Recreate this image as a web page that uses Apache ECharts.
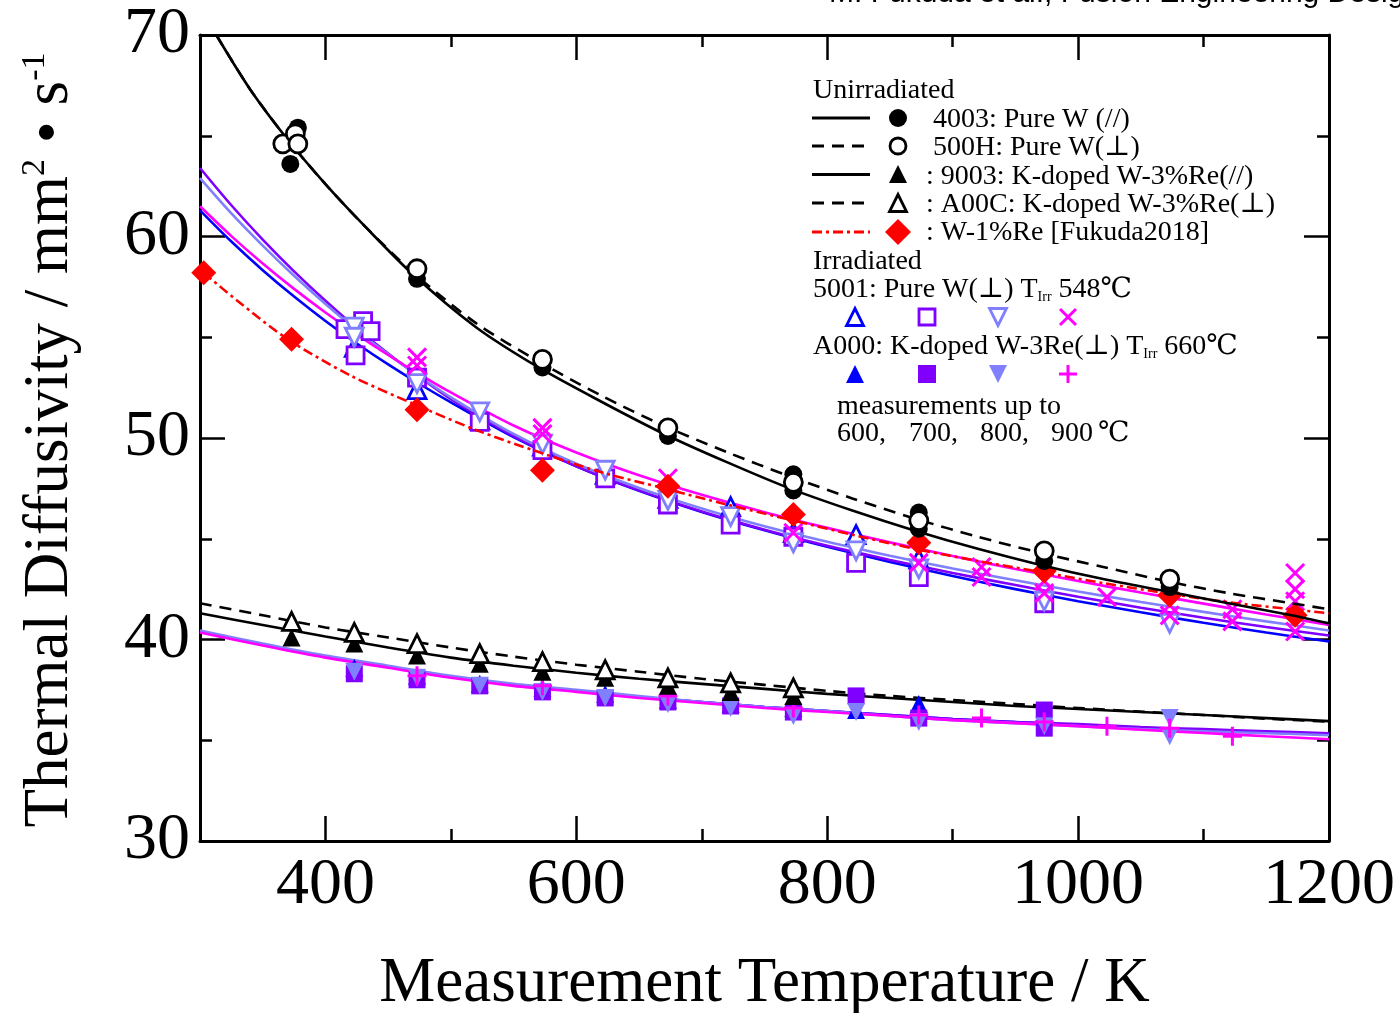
<!DOCTYPE html>
<html><head><meta charset="utf-8">
<script src="https://cdn.jsdelivr.net/npm/echarts@6/dist/echarts.min.js"></script>
<style>html,body{margin:0;padding:0;background:#fff;overflow:hidden}#c{display:block;width:100vw;height:100vh}</style>
</head><body><div id="c"></div>
<script>
// ---------------- data ----------------
const xTickMajor = [400, 600, 800, 1000, 1200];
const xTickMinor = [500, 700, 900, 1100];

// Unirradiated pure W
const pw4003 = [[372,63.6],[378,65.4],[473,57.9],[573,53.5],[673,50.1],[773,48.2],[773,47.4],[873,46.3],[873,45.5],[973,43.9],[1073,42.6]];
const pw500H = [[366,64.6],[376,65.1],[378,64.6],[473,58.4],[573,53.9],[673,50.5],[773,47.8],[873,45.9],[973,44.4],[1073,43.0]];
const fit4003 = [[313,70.0],[340,67.3],[370,64.8],[400,62.6],[430,60.6],[470,58.1],[520,55.5],[570,53.5],[620,51.8],[670,50.2],[720,48.8],[770,47.5],[820,46.4],[870,45.4],[920,44.5],[970,43.7],[1020,43.0],[1070,42.4],[1120,41.8],[1170,41.2],[1200,40.8]];
const fit500H = [[313,70.0],[340,67.3],[370,64.8],[400,62.6],[430,60.6],[470,58.2],[520,55.7],[570,53.8],[620,52.1],[670,50.6],[720,49.3],[770,48.1],[820,47.0],[870,46.0],[920,45.1],[970,44.3],[1020,43.6],[1070,42.9],[1120,42.3],[1170,41.8],[1200,41.5]];

// W-1%Re [Fukuda2018]
const wre1 = [[303,58.2],[373,54.9],[473,51.4],[573,48.4],[673,47.6],[773,46.2],[873,44.8],[973,43.4],[1073,42.2],[1173,41.2]];
const fitWRe1 = [[303,58.2],[330,56.8],[370,54.9],[420,53.1],[470,51.7],[520,50.4],[570,49.3],[620,48.3],[670,47.5],[720,46.7],[770,45.95],[820,45.2],[870,44.5],[920,43.9],[970,43.35],[1020,42.8],[1070,42.3],[1120,41.85],[1170,41.5],[1200,41.3]];

// Unirradiated K-doped W-3%Re
const k9003 = [[373,40.1],[423,39.8],[473,39.2],[523,38.8],[573,38.4],[623,38.1],[673,37.7],[723,37.4],[773,37.2]];
const kA00C = [[373,40.9],[423,40.35],[473,39.8],[523,39.3],[573,38.9],[623,38.5],[673,38.1],[723,37.85],[773,37.6]];

// fit temperature grids
const tUp = [300,325,350,375,400,425,450,475,500,550,600,650,700,750,800,850,900,950,1000,1050,1100,1150,1200];
const tLow = [300,350,400,450,500,550,600,650,700,750,800,850,900,950,1000,1050,1100,1150,1200];

const fit9003 = [41.3,40.72,40.15,39.6,39.1,38.7,38.35,38.05,37.8,37.55,37.3,37.1,36.9,36.7,36.55,36.4,36.25,36.1,35.95];
const fitA00C = [41.8,41.2,40.6,40.1,39.6,39.15,38.75,38.4,38.05,37.75,37.45,37.2,37.0,36.8,36.6,36.42,36.25,36.07,35.92];

// Irradiated 5001 pure W (upper group): measurements up to 600/700/800/900 C
const irrUpBlue = [[423,54.5],[473,52.4],[523,50.9],[573,49.6],[623,48.2],[673,47.0],[723,46.6],[773,45.3],[823,45.2],[873,44.0]];
const irrUpPurple = [[416,55.4],[430,55.8],[436,55.3],[424,54.1],[473,53.0],[523,50.8],[573,49.4],[623,48.0],[673,46.7],[723,45.7],[773,45.1],[823,43.8],[873,43.1],[973,41.8]];
const irrUpLight = [[423,55.5],[423,55.0],[473,52.7],[523,51.3],[573,49.7],[623,48.4],[673,46.9],[723,46.1],[773,44.8],[823,44.4],[873,43.5],[973,41.9],[1073,40.8]];
const irrUpMagenta = [[473,54.0],[473,53.6],[573,50.5],[573,50.2],[673,48.0],[773,45.3],[873,43.8],[923,43.6],[923,43.1],[973,42.9],[973,42.3],[1023,42.1],[1073,41.7],[1073,41.2],[1123,41.5],[1123,40.9],[1173,43.3],[1173,42.5],[1173,41.9],[1173,40.4]];
const fitUpBlue = [61.3,59.75,58.33,57.02,55.81,54.69,53.65,52.68,51.77,50.05,48.6,47.38,46.33,45.42,44.6,43.85,43.15,42.5,41.9,41.35,40.83,40.35,39.9];
const fitUpPurple = [63.4,61.55,59.85,58.27,56.81,55.45,54.19,53.02,51.93,50.1,48.6,47.4,46.35,45.45,44.65,43.95,43.3,42.7,42.12,41.58,41.08,40.62,40.2];
const fitUpLight = [62.9,61.15,59.55,58.05,56.65,55.35,54.15,53.05,52.02,50.2,48.72,47.52,46.5,45.62,44.85,44.16,43.52,42.94,42.38,41.86,41.37,40.9,40.45];
const fitUpMagenta = [61.5,60.02,58.66,57.4,56.23,55.14,54.12,53.16,52.26,50.62,49.28,48.15,47.18,46.32,45.54,44.82,44.14,43.5,42.9,42.33,41.78,41.24,40.72];

// Irradiated A000 K-doped W-3Re (lower group)
const irrLowBlue = [[423,38.6],[473,38.2],[523,37.8],[573,37.6],[623,37.3],[673,37.0],[723,36.8],[773,36.6],[823,36.5],[873,36.8]];
const irrLowPurple = [[423,38.3],[473,38.0],[523,37.7],[573,37.4],[623,37.1],[673,36.9],[723,36.7],[773,36.4],[823,37.2],[873,36.1],[973,36.5],[973,35.6]];
const irrLowLight = [[423,38.4],[473,38.1],[523,37.7],[573,37.4],[623,37.1],[673,36.8],[723,36.6],[773,36.2],[823,36.4],[873,35.9],[973,35.7],[1073,36.1],[1073,35.2]];
const irrLowMagenta = [[473,38.2],[573,37.7],[673,37.2],[773,36.6],[873,36.25],[923,36.1],[973,35.9],[1023,35.7],[1073,35.6],[1123,35.2]];
const fitLowBlue = [40.4,39.75,39.15,38.65,38.15,37.75,37.45,37.15,36.9,36.65,36.45,36.25,36.05,35.9,35.75,35.6,35.5,35.4,35.3];
const fitLowPurple = [40.4,39.75,39.15,38.65,38.15,37.75,37.45,37.15,36.9,36.65,36.45,36.25,36.05,35.9,35.8,35.65,35.55,35.45,35.35];
const fitLowLight = [40.45,39.8,39.2,38.7,38.2,37.8,37.5,37.2,36.9,36.65,36.45,36.2,36.0,35.85,35.7,35.55,35.45,35.35,35.25];
const fitLowMagenta = [40.35,39.7,39.1,38.6,38.1,37.7,37.4,37.1,36.85,36.6,36.4,36.2,36.0,35.85,35.7,35.52,35.36,35.2,35.05];

// ---------------- setup & scale ----------------
const chart = echarts.init(document.getElementById('c'), null, {renderer:'canvas'});
const W = chart.getWidth(), H = chart.getHeight();
const sx = W / 1400, sy = H / 1013, sf = Math.min(sx, sy);
const X = v => v * sx, Y = v => v * sy, F = v => v * sf;

const C = {blue:'#0000ff', purple:'#8000ff', light:'#8080ff', magenta:'#ff00ff', red:'#ff0000', black:'#000000'};
const SERIF = "'Liberation Serif','DejaVu Serif','Noto Sans CJK JP',serif";
const CROSS = 'path://M0,0L10,10M10,0L0,10';
const PLUS = 'path://M5,0L5,10M0,5L10,5';

const zip = (t, v) => t.map((x, i) => [x, v[i]]);

function fitLine(data, color, type, z) {
  return {type:'line', data, showSymbol:false, smooth:0.3, silent:true,
    lineStyle:{color, width:F(2.6), type: type || 'solid'}, z: z || 2, animation:false};
}
function scat(data, symbol, color, filled, opts) {
  opts = opts || {};
  return {type:'scatter', data, symbol, symbolSize: F(opts.size || 18), symbolRotate: opts.rotate || 0,
    itemStyle: filled ? {color, borderColor: color, borderWidth: 0, opacity:1}
      : {color: opts.fillNone ? 'rgba(0,0,0,0)' : '#ffffff', borderColor: color, borderWidth: F(opts.bw || 2.8), opacity:1},
    z: opts.z || 3, animation:false, silent:true};
}
const dash = a => a.map(F);

const series = [
  fitLine(zip(tLow, fitLowBlue), C.blue),
  fitLine(zip(tLow, fitLowPurple), C.purple),
  fitLine(zip(tLow, fitLowLight), C.light),
  fitLine(zip(tLow, fitLowMagenta), C.magenta),
  scat(irrLowBlue, 'triangle', C.blue, true),
  scat(irrLowPurple, 'rect', C.purple, true, {size:17}),
  scat(irrLowLight, 'triangle', C.light, true, {rotate:180}),
  scat(irrLowMagenta, PLUS, C.magenta, false, {fillNone:true, bw:3, size:19}),
  fitLine(zip(tLow, fit9003), C.black),
  fitLine(zip(tLow, fitA00C), C.black, dash([12, 8])),
  scat(k9003, 'triangle', C.black, true, {z:4}),
  scat(kA00C, 'triangle', C.black, false, {z:5}),
  fitLine(zip(tUp, fitUpBlue), C.blue),
  fitLine(zip(tUp, fitUpPurple), C.purple),
  fitLine(zip(tUp, fitUpLight), C.light),
  fitLine(zip(tUp, fitUpMagenta), C.magenta),
  scat(irrUpBlue, 'triangle', C.blue, false),
  scat(irrUpPurple, 'rect', C.purple, false, {size:17}),
  scat(irrUpLight, 'triangle', C.light, false, {rotate:180}),
  scat(irrUpMagenta, CROSS, C.magenta, false, {fillNone:true, bw:3, size:18}),
  fitLine(fitWRe1, C.red, dash([10, 4, 3, 4]), 6),
  scat(wre1, 'diamond', C.red, true, {size:25, z:7}),
  fitLine(fit4003, C.black, 'solid', 8),
  fitLine(fit500H, C.black, dash([12, 8]), 8),
  scat(pw4003, 'circle', C.black, true, {z:9}),
  scat(pw500H, 'circle', C.black, false, {z:10})
];

// ---------------- legend (graphic) ----------------
const G = [];
function txt(x, y, text, extra) {
  G.push({type:'text', x:X(x), y:Y(y), z:100, style:Object.assign({text, fontSize:F(28), fontFamily:SERIF, fill:'#000', verticalAlign:'middle', align:'left'}, extra || {})});
}
function lline(y, d, color) {
  G.push({type:'line', z:100, shape:{x1:X(812), y1:Y(y), x2:X(870), y2:Y(y)}, style:{stroke:color || '#000', lineWidth:F(3), lineDash:d ? dash(d) : null}});
}
function tri(cx, cy, s, color, filled, down) {
  const h = s / 2;
  const pts = (down ? [[cx, cy + h], [cx + h, cy - h], [cx - h, cy - h]] : [[cx, cy - h], [cx + h, cy + h], [cx - h, cy + h]]).map(p => [X(p[0]), Y(p[1])]);
  G.push({type:'polygon', z:100, shape:{points:pts}, style: filled ? {fill:color} : {fill:'#fff', stroke:color, lineWidth:F(2.8)}});
}
function seg(x1, y1, x2, y2, color) {
  G.push({type:'line', z:100, shape:{x1:X(x1), y1:Y(y1), x2:X(x2), y2:Y(y2)}, style:{stroke:color, lineWidth:F(3)}});
}
const LX = 898;
txt(813, 91, 'Unirradiated');
lline(118); G.push({type:'circle', z:100, shape:{cx:X(LX), cy:Y(118), r:F(9)}, style:{fill:'#000'}});
txt(933, 120, '4003: Pure W (//)');
lline(146, [12, 8]); G.push({type:'circle', z:100, shape:{cx:X(LX), cy:Y(146), r:F(8)}, style:{fill:'#fff', stroke:'#000', lineWidth:F(2.8)}});
txt(933, 148, '500H: Pure W(⊥)');
lline(174.5); tri(LX, 174, 18, '#000', true);
txt(926, 177, ': 9003: K-doped W-3%Re(//)');
lline(203, [12, 8]); tri(LX, 203, 17, '#000', false);
txt(926, 205, ': A00C: K-doped W-3%Re(⊥)');
lline(232, [10, 4, 3, 4], C.red);
G.push({type:'polygon', z:100, shape:{points:[[LX, 219], [LX + 13, 232], [LX, 245], [LX - 13, 232]].map(p => [X(p[0]), Y(p[1])])}, style:{fill:C.red}});
txt(926, 233, ': W-1%Re [Fukuda2018]');
txt(813, 262, 'Irradiated');
const richT = {n:{fontSize:F(28), fontFamily:SERIF}, s:{fontSize:F(14), fontFamily:SERIF, verticalAlign:'bottom'}};
txt(813, 290, '{n|5001: Pure W(⊥) T}{s|Irr}{n| 548℃}', {rich: richT});
const mx = [855, 927, 998, 1068];
tri(mx[0], 317, 17, C.blue, false);
G.push({type:'rect', z:100, shape:{x:X(mx[1] - 8), y:Y(317 - 8), width:F(16), height:F(16)}, style:{fill:'#fff', stroke:C.purple, lineWidth:F(2.8)}});
tri(mx[2], 317, 17, C.light, false, true);
seg(mx[3] - 8, 309, mx[3] + 8, 325, C.magenta);
seg(mx[3] + 8, 309, mx[3] - 8, 325, C.magenta);
txt(813, 347, '{n|A000: K-doped W-3Re(⊥) T}{s|Irr}{n| 660℃}', {rich: richT});
tri(mx[0], 374, 18, C.blue, true);
G.push({type:'rect', z:100, shape:{x:X(mx[1] - 9), y:Y(374 - 9), width:F(18), height:F(18)}, style:{fill:C.purple}});
tri(mx[2], 374, 18, C.light, true, true);
seg(mx[3] - 9, 374, mx[3] + 9, 374, C.magenta);
seg(mx[3], 365, mx[3], 383, C.magenta);
txt(837, 407, 'measurements up to');
txt(837, 434, '600,');
txt(909, 434, '700,');
txt(980, 434, '800,');
txt(1051, 434, '900');
txt(1098, 434, '℃');

// y-axis title
G.push({type:'text', x:X(50), y:Y(440), rotation:Math.PI / 2, z:100,
  style:{text:'{a|Thermal Diffusivity / mm}{s|2}{a| • s}{s|-1}', align:'center', verticalAlign:'middle',
    rich:{a:{fontSize:F(63), fontFamily:SERIF, fill:'#000'}, s:{fontSize:F(34), fontFamily:SERIF, fill:'#000', verticalAlign:'top'}}}});
// clipped header note at top
G.push({type:'text', x:X(829), y:Y(9), z:100, style:{text:'M. Fukuda et al., Fusion Engineering Design', fontSize:F(30), fontFamily:"'Liberation Sans','Open Sans',sans-serif", fill:'#000', verticalAlign:'bottom', align:'left'}});

// ---------------- axes ----------------
const axLine = {show:true, lineStyle:{color:'#000', width:F(3)}};
const tickStyle = {color:'#000', width:F(2.5)};
function xAx(pos, vals, len, showLine, showLabel) {
  return {type:'value', min:300, max:1200, position:pos, offset:0,
    axisLine: showLine ? axLine : {show:false},
    axisTick:{show:true, inside:true, length:Y(len), customValues:vals, lineStyle:tickStyle},
    axisLabel: showLabel ? {show:true, customValues:xTickMajor, formatter: v => String(v), fontSize:F(66), fontFamily:SERIF, color:'#000', margin:Y(12)} : {show:false},
    splitLine:{show:false}, minorTick:{show:false}};
}
function yAx(pos, showLabel) {
  return {type:'value', min:30, max:70, interval:10, position:pos, offset:0,
    axisLine: axLine,
    axisTick:{show:true, inside:true, length:X(25), lineStyle:tickStyle},
    minorTick:{show:true, splitNumber:2, length:X(12), lineStyle:tickStyle},
    axisLabel: showLabel ? {show:true, formatter: v => String(v), fontSize:F(66), fontFamily:SERIF, color:'#000', margin:X(10)} : {show:false},
    splitLine:{show:false}, minorSplitLine:{show:false}};
}

const xAxes = [
  Object.assign(xAx('bottom', xTickMajor, 25, true, true), {
    name:'Measurement Temperature / K', nameLocation:'middle', nameGap:Y(112),
    nameTextStyle:{fontSize:F(63), fontFamily:SERIF, color:'#000'}}),
  xAx('bottom', xTickMinor, 12, false, false),
  xAx('top', xTickMajor, 25, true, false),
  xAx('top', xTickMinor, 12, false, false)
];

chart.setOption({
  animation:false,
  backgroundColor:'#ffffff',
  grid:{left:X(200), right:X(71), top:Y(35), bottom:Y(172), containLabel:false, outerBoundsMode:'none'},
  xAxis: xAxes,
  yAxis: [yAx('left', true), yAx('right', false)],
  series: series.map(s => Object.assign(s, {xAxisIndex:0, yAxisIndex:0})),
  graphic: G
});
</script></body></html>
